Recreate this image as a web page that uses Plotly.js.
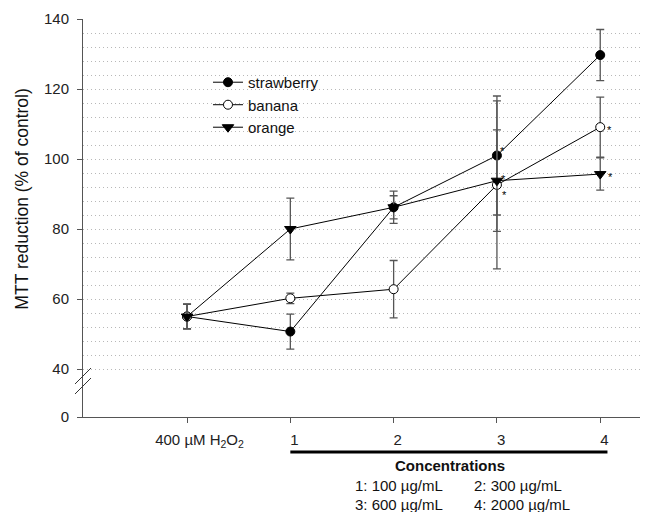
<!DOCTYPE html>
<html>
<head>
<meta charset="utf-8">
<script src="https://cdn.plot.ly/plotly-3.0.1.min.js"></script>
<style>html,body{margin:0;padding:0;background:#fff;}#chart{width:648px;height:512px;}</style>
</head>
<body>
<div id="chart"></div>
<script>
// ---- data ----
const xPositions = [0, 1, 2, 3, 4];
const xTickLabels = ["400 \u00B5M H<sub>2</sub>O<sub>2</sub>", "1", "2", "3", "4"];

const strawberry    = [55, 50.7, 86.2, 101.0, 129.7];
const strawberryErr = [3.5, 5.0, 3.3, 17.0, 7.3];
const banana        = [55, 60.2, 62.8, 92.6, 109.1];
const bananaErr     = [3.5, 1.5, 8.2, 24.0, 8.6];
const orange        = [55, 80.0, 86.2, 93.8, 95.7];
const orangeErr     = [3.5, 8.8, 4.6, 14.5, 4.6];

const yTickValues = [40, 60, 80, 100, 120, 140];
const starSeries = ["strawberry", "orange", "banana", "banana", "orange"];
const starIndex  = [3, 3, 3, 4, 4];
const concTitle = "Concentrations";
const concLabels = ["1: 100 \u00B5g/mL", "2: 300 \u00B5g/mL", "3: 600 \u00B5g/mL", "4: 2000 \u00B5g/mL"];

// ---- styling ----
const FONT = "Liberation Sans, Arial, sans-serif";
const AX = "#555";
const FS = 15;
const seriesData = {strawberry: strawberry, banana: banana, orange: orange};
const NB = "\u00A0";
const tickPad = [6, 2, 2, 2, 2];
const shownTickText = xTickLabels.map((t, i) => NB.repeat(tickPad[i]) + t);

function tr(name, y, err, symbol, fill, size) {
  return {
    type: "scatter", mode: "lines+markers", name: name,
    x: xPositions, y: y, xaxis: "x", yaxis: "y2",
    line: {color: "#000", width: 1},
    marker: {symbol: symbol, size: size, color: fill, line: {color: "#000", width: 1}},
    error_y: {type: "data", array: err, visible: true, color: "#555", thickness: 1.3, width: 4}
  };
}
const traces = [
  {type: "scatter", mode: "markers", x: [], y: [], xaxis: "x", yaxis: "y", showlegend: false, hoverinfo: "skip"},
  tr("strawberry", strawberry, strawberryErr, "circle", "#000", 9),
  tr("banana", banana, bananaErr, "circle", "#fff", 9),
  tr("orange", orange, orangeErr, "triangle-down", "#000", 10)
];

const starShift = [[6, 8], [7, 5], [8, -7], [9, 0], [10, 0]];
const annotations = starSeries.map((s, i) => ({
  x: xPositions[starIndex[i]], y: seriesData[s][starIndex[i]], xref: "x", yref: "y2",
  text: "*", showarrow: false, font: {family: FONT, size: 11, color: "#000"},
  xshift: starShift[i][0], yshift: starShift[i][1] - 3
}));
annotations.push({
  text: "MTT reduction (% of control)", xref: "paper", yref: "paper",
  x: -0.110, y: 0.548, xanchor: "center", yanchor: "middle", textangle: -90, showarrow: false,
  font: {family: FONT, size: 17.5, color: "#111"}
});
annotations.push({
  text: "<b>" + concTitle + "</b>", xref: "x", yref: "paper", x: 2.55, y: -0.121,
  xanchor: "center", yanchor: "middle",
  showarrow: false, font: {family: FONT, size: FS, color: "#111"}
});
const concX = [1.61, 2.76, 1.61, 2.76];
const concY = [-0.171, -0.171, -0.219, -0.219];
concLabels.forEach((t, i) => annotations.push({
  text: t, xref: "x", yref: "paper", x: concX[i], y: concY[i], xanchor: "left", yanchor: "middle",
  showarrow: false, font: {family: FONT, size: FS, color: "#111"}
}));

const PW = 557, PH = 398;
const splitPaper = 37 / PH;
const shapes = [
  {type: "line", xref: "x", yref: "paper", x0: 1, x1: 4.07, y0: -0.088, y1: -0.088,
   line: {color: "#000", width: 3}},
  {type: "line", xref: "paper", yref: "paper", x0: -8 / PW, x1: 8 / PW,
   y0: (417 - 384) / PH, y1: (417 - 368) / PH, line: {color: "#333", width: 1}},
  {type: "line", xref: "paper", yref: "paper", x0: -8 / PW, x1: 8 / PW,
   y0: (417 - 394) / PH, y1: (417 - 378) / PH, line: {color: "#333", width: 1}}
];

const axisCommon = {
  showline: true, linecolor: AX, linewidth: 1, ticks: "outside", ticklen: 5, tickcolor: AX,
  showgrid: false, zeroline: false, tickfont: {family: FONT, size: FS, color: "#222"}
};

const layout = {
  width: 648, height: 512,
  margin: {l: 83, r: 8, t: 19, b: 95},
  paper_bgcolor: "#fff", plot_bgcolor: "#fff",
  font: {family: FONT, size: FS, color: "#222"},
  showlegend: true,
  legend: {x: 0.2244, y: 0.882, xanchor: "left", yanchor: "top", bgcolor: "rgba(0,0,0,0)",
           font: {family: FONT, size: FS, color: "#111"}, itemwidth: 30},
  xaxis: Object.assign({}, axisCommon, {
    range: [-1.007, 4.385], anchor: "y", tickvals: xPositions, ticktext: shownTickText,
    ticklabelstandoff: 4
  }),
  yaxis: Object.assign({}, axisCommon, {
    domain: [0, splitPaper], range: [0, 10.57], anchor: "x", tickvals: [0], ticktext: ["0"],
    ticklabelstandoff: 5
  }),
  yaxis2: Object.assign({}, axisCommon, {
    domain: [splitPaper, 1], range: [36.86, 140], anchor: "x", tickvals: yTickValues,
    ticklabelstandoff: 5,
    minor: {dtick: 4, tick0: 0, showgrid: true, gridcolor: "#b8b8b8", griddash: "1px,3px", gridwidth: 1}
  }),
  annotations: annotations,
  shapes: shapes
};

Plotly.newPlot("chart", traces, layout, {displayModeBar: false, staticPlot: true});
</script>
</body>
</html>
